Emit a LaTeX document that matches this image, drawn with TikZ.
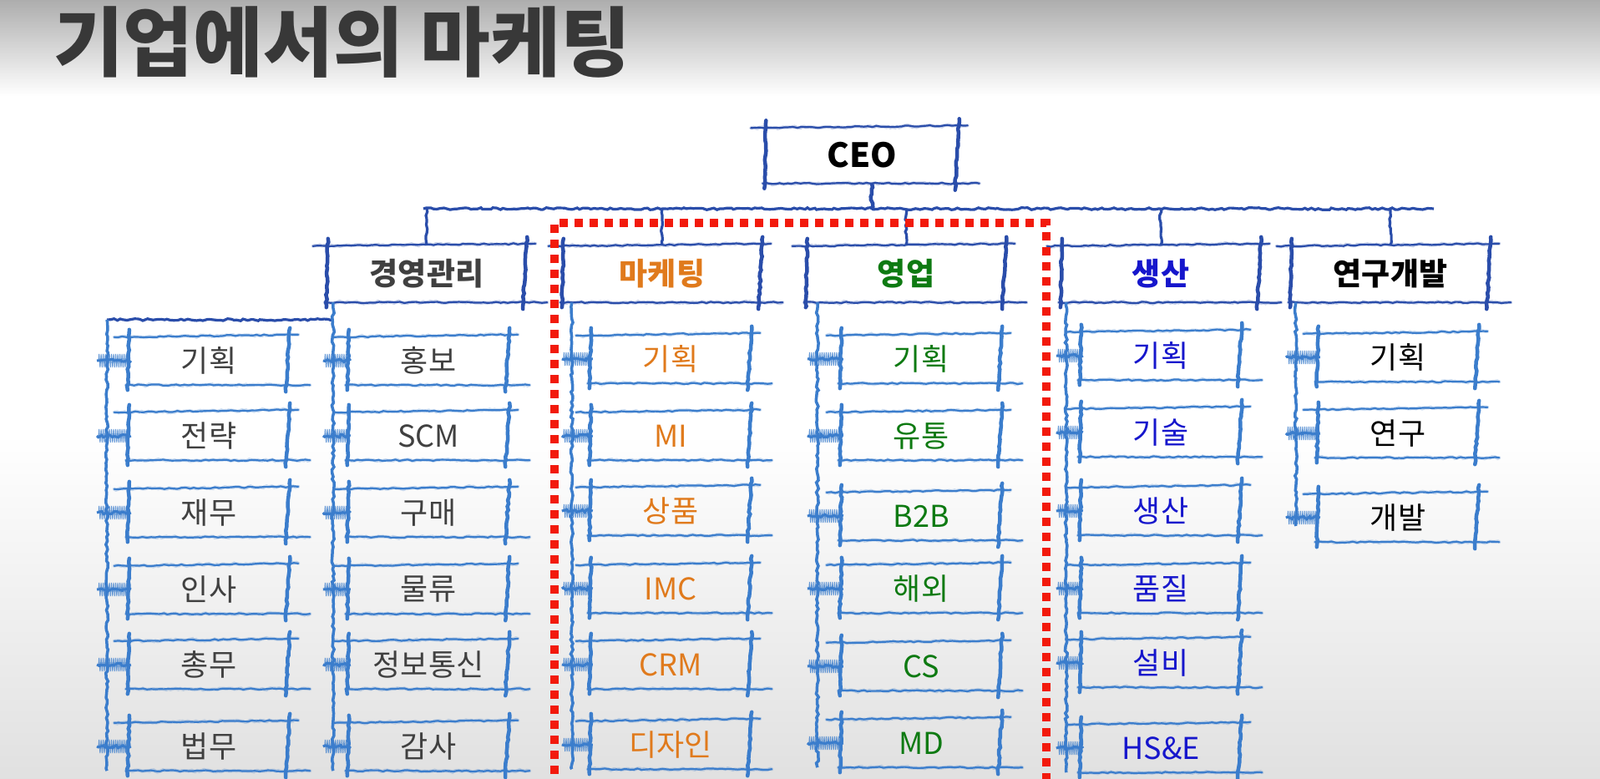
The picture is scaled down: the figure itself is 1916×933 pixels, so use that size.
\documentclass[tikz,border=0pt]{standalone}
\usepackage{fontspec}
\setmainfont{Noto Sans CJK KR}
\usetikzlibrary{decorations.pathmorphing,calc}
\definecolor{dkblue}{HTML}{2A4DAA}
\definecolor{ltblue}{HTML}{3B7DCC}
\definecolor{mkorange}{HTML}{E07A1C}
\definecolor{sagreen}{HTML}{0E7A12}
\definecolor{prblue}{HTML}{1616CC}
\definecolor{mggray}{HTML}{404040}
\definecolor{redot}{HTML}{F21A0C}
\definecolor{titlegray}{HTML}{383838}
\tikzset{
  crayonh/.style={line width=2.2pt, line cap=round, decorate, decoration={random steps,segment length=5pt,amplitude=0.8pt},
    postaction={draw, line width=4pt, opacity=0.25, decorate, decoration={random steps,segment length=3pt,amplitude=1pt}}},
  crayonv/.style={line width=4.5pt, line cap=round, decorate, decoration={random steps,segment length=4pt,amplitude=0.9pt}},
  stuba/.style={draw=ltblue, line width=3pt, decorate, decoration={random steps,segment length=3pt,amplitude=1.8pt}},
  stubb/.style={draw=ltblue, line width=1pt, opacity=0.8, decorate, decoration={zigzag,segment length=2.5pt,amplitude=8pt}},
  trunkline/.style={draw=ltblue, line width=3.5pt, decorate, decoration={random steps,segment length=4pt,amplitude=1.4pt}},
  busline/.style={draw=dkblue, line width=3.2pt, decorate, decoration={random steps,segment length=4pt,amplitude=1.3pt}},
  l3box/.style={minimum width=190pt, minimum height=58pt, inner sep=0pt, font=\fontsize{36}{40}\selectfont},
  l2box/.style={minimum width=236pt, minimum height=68pt, inner sep=0pt, font=\fontsize{37}{42}\selectfont\bfseries},
  ceobox/.style={minimum width=229pt, minimum height=67pt, inner sep=0pt, font=\fontsize{40}{44}\selectfont\bfseries},
  reddots/.style={draw=redot, line width=10pt, dash pattern=on 10pt off 8pt},
}
\newcommand\skframe[2]{%
  \draw[crayonh,draw=#2] ($(#1.north west)+(-18,1)$) -- ($(#1.north east)+(12,-2)$);
  \draw[crayonh,draw=#2] ($(#1.south west)+(-4,0)$) -- ($(#1.south east)+(26,0)$);
  \draw[crayonv,draw=#2] ($(#1.north west)+(0,-8)$) -- ($(#1.south west)+(-2,6)$);
  \draw[crayonv,draw=#2] ($(#1.north east)+(2,-10)$) -- ($(#1.south east)+(-3,8)$);
}
\newcommand\skstub[2]{%
  \draw[stuba] ($(#1 |- #2)+(-12,0)$) -- ([xshift=2pt]#2.west);
  \draw[stubb] ($(#1 |- #2)+(-10,0)$) -- (#2.west);
}
\begin{document}
\begin{tikzpicture}[x=1pt,y=-1pt]
\path[use as bounding box] (0,0) rectangle (1916,933);
\clip (0,0) rectangle (1916,933);
\fill[white] (0,0) rectangle (1916,933);
\shade[top color=black!32, bottom color=white] (0,0) rectangle (1916,115);
\shade[top color=white, bottom color=black!12] (0,520) rectangle (1916,933);

% title
\node[anchor=west, inner sep=0pt, text=titlegray, font=\fontsize{91}{96}\selectfont\bfseries] (title) at (64,50) {기업에서의 마케팅};

% CEO and level 2
\node[ceobox] (ceo) at (1032,186) {CEO};
\node[l2box, text=mggray] (mg) at (511,328) {경영관리};
\node[l2box, text=mkorange] (mk) at (793,328) {마케팅};
\node[l2box, text=sagreen] (yo) at (1085,328) {영업};
\node[l2box, text=prblue] (sa) at (1390,328) {생산};
\node[l2box, text=black] (rd) at (1665,328) {연구개발};

% level 3
\foreach \t/\y [count=\i] in {기획/432,전략/522,재무/614,인사/706,총무/796,법무/894}
  \node[l3box, text=mggray] (a\i) at (250,\y) {\t};
\foreach \t/\y [count=\i] in {홍보/432,SCM/522,구매/614,물류/706,정보통신/796,감사/894}
  \node[l3box, text=mggray] (b\i) at (513,\y) {\t};
\foreach \t/\y [count=\i] in {기획/430,MI/522,상품/612,IMC/705,CRM/796,디자인/892}
  \node[l3box, text=mkorange] (c\i) at (803,\y) {\t};
\foreach \t/\y [count=\i] in {기획/430,유통/522,B2B/618,해외/705,CS/798,MD/890}
  \node[l3box, text=sagreen] (d\i) at (1103,\y) {\t};
\foreach \t/\y [count=\i] in {기획/426,기술/518,생산/612,품질/705,설비/794,HS\&E/896}
  \node[l3box, text=prblue] (e\i) at (1390,\y) {\t};
\foreach \t/\y [count=\i] in {기획/428,연구/519,개발/620}
  \node[l3box, text=black] (f\i) at (1674,\y) {\t};

% frames
\skframe{ceo}{dkblue}
\foreach \n in {mg,mk,yo,sa,rd} {\skframe{\n}{dkblue}}
\foreach \n in {a1,a2,a3,a4,a5,a6,b1,b2,b3,b4,b5,b6,c1,c2,c3,c4,c5,c6,d1,d2,d3,d4,d5,d6,e1,e2,e3,e4,e5,e6,f1,f2,f3} {\skframe{\n}{ltblue}}

% bus from CEO
\coordinate (busl) at (507,250);
\coordinate (busr) at (1717,250);
\draw[busline] (busl) -- (busr);
\draw[busline, line width=4.5pt] ([xshift=12pt]ceo.south) -- ([xshift=12pt]ceo.south |- busl);
\foreach \n in {mg,mk,yo,sa,rd} {\draw[busline] (\n.north |- busl) -- (\n.north);}

% trunks
\coordinate (tb) at ([xshift=6pt]mg.south west);
\coordinate (tc) at ([xshift=10pt]mk.south west);
\coordinate (td) at ([xshift=12pt]yo.south west);
\coordinate (te) at ([xshift=5pt]sa.south west);
\coordinate (tf) at ([xshift=5pt]rd.south west);
\coordinate (ta) at (128,383);
\draw[busline] (ta) -- (tb |- ta);
\draw[trunkline] (ta) -- (ta |- a6.south);
\draw[trunkline] (tb) -- (tb |- b6.south);
\draw[trunkline] (tc) -- (tc |- c6.south);
\draw[trunkline] (td) -- (td |- d6.south);
\draw[trunkline] (te) -- (te |- e6.south);
\draw[trunkline] (tf) -- ([yshift=-10pt]tf |- f3);

% stubs
\foreach \i in {1,...,6} {\skstub{ta}{a\i}\skstub{tb}{b\i}\skstub{tc}{c\i}\skstub{td}{d\i}\skstub{te}{e\i}}
\foreach \i in {1,2,3} {\skstub{tf}{f\i}}

% red dotted frame
\draw[reddots] (664,945) -- (664,267) -- (1253,267) -- (1253,945);
\end{tikzpicture}
\end{document}
